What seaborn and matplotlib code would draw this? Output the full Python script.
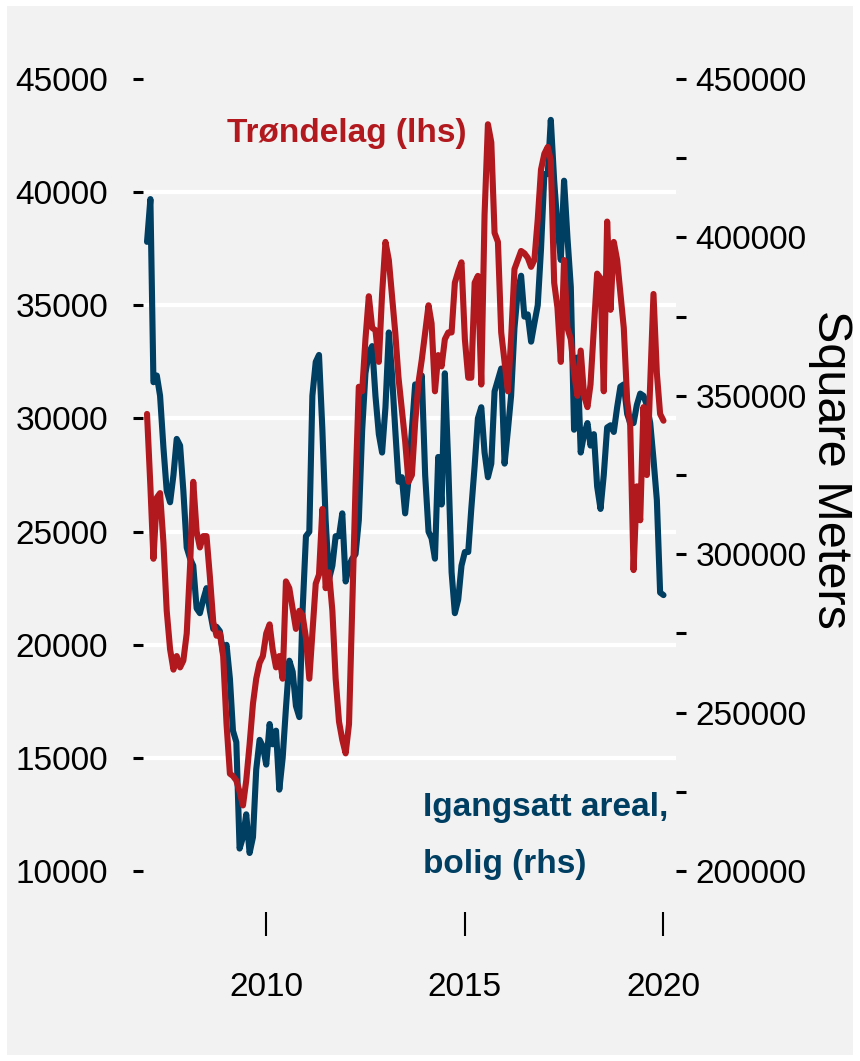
import numpy as np
import pandas as pd
import matplotlib
matplotlib.use('Agg')
import matplotlib.pyplot as plt
import seaborn as sns
from matplotlib.patches import Rectangle
from matplotlib import font_manager

# monthly values, Jan 2007 - Jan 2020
dates = pd.date_range('2007-01-01', periods=157, freq='MS')

trondelag = [
    30200, 27000, 23800, 26500, 26700, 24500, 21500, 19800, 18900, 19500, 19000, 19300,
    20500, 23500, 27200, 25000, 24300, 24800, 24800, 23000, 21000, 20400, 20500, 19500,
    16500, 14300, 14200, 14000, 13500, 12900, 14000, 15600, 17400, 18500, 19200, 19500,
    20500, 20900, 19800, 19000, 19500, 18500, 22800, 22500, 21600, 20700, 21500, 21300,
    20300, 18500, 20500, 22700, 23100, 26000, 22500, 23200, 21500, 18500, 16600, 15800,
    15200, 16500, 21500, 27000, 31400, 31200, 33500, 35400, 34000, 33900, 32500, 35500,
    37800, 37000, 35500, 33800, 31800, 30400, 29000, 27200, 27500, 29800, 31600, 32600,
    33800, 35000, 34200, 31200, 32800, 32300, 33500, 33800, 33800, 36000, 36500, 36900,
    33500, 31800, 31800, 36000, 36300, 31500, 39000, 43000, 42200, 38200, 37800, 33800,
    32500, 31200, 33500, 36600, 37000, 37400, 37300, 37100, 36700, 37000, 38800, 41000,
    41700, 42000, 41400, 36000, 34900, 32500, 37000, 34000, 33500, 32000, 31000, 33000,
    31000, 30500, 31500, 34000, 36400, 36200, 31200, 38700, 34800, 37800, 37000, 35500,
    34000, 30800, 29700, 23300, 27000, 25500, 30500, 27500, 31500, 35500, 32000, 30200,
    29900,
]

igangsatt = [
    398600, 412100, 354300, 356400, 350000, 333600, 320000, 316400, 325000, 336400, 334300, 320000,
    302100, 298600, 296400, 282900, 281400, 285700, 289300, 282100, 276400, 277100, 275700, 268600,
    271400, 260700, 244300, 240700, 207100, 210700, 217900, 205700, 210700, 232100, 241400, 239300,
    233600, 246400, 240000, 244300, 225700, 235700, 251400, 266400, 262900, 252100, 248600, 282100,
    305700, 307100, 350000, 360700, 362900, 339300, 310700, 292100, 296400, 305700, 305700, 312900,
    291400, 296400, 298600, 300000, 310700, 339300, 357100, 363600, 365700, 350000, 337900, 332100,
    346400, 370000, 357100, 339300, 322900, 324300, 312900, 323600, 339300, 353600, 352900, 356400,
    325000, 307100, 305000, 298600, 330700, 315700, 357100, 328600, 294300, 281400, 285700, 296400,
    300700, 300700, 314300, 327900, 342900, 346400, 332100, 324300, 328600, 351400, 355000, 358600,
    328600, 339300, 350000, 371400, 382900, 387900, 375000, 375700, 367100, 372900, 378600, 396400,
    420000, 420000, 437100, 417900, 403600, 392900, 417900, 400000, 384300, 339300, 362100, 332100,
    337900, 341400, 334300, 337900, 321400, 314300, 325000, 340000, 340700, 338600, 346400, 352900,
    353600, 344300, 341400, 341400, 347100, 350700, 350000, 347100, 341400, 330000, 317100, 287900,
    287100,
]

left_ticks = [10000, 15000, 20000, 25000, 30000, 35000, 40000, 45000]
right_ticks = [200000, 225000, 250000, 275000, 300000, 325000, 350000, 375000, 400000, 425000, 450000]
year_ticks = ['2010', '2015', '2020']

RED = '#B2191F'
BLUE = '#003E62'
BG = '#F2F2F2'

df = pd.DataFrame({'date': dates, 'trondelag': trondelag, 'igangsatt': igangsatt})


def to_rhs(v):
    return 200000 + (v - 10000) * 250000 / 35000


sns.set_style('white')
names = {f.name for f in font_manager.fontManager.ttflist}
narrow = 'Liberation Sans Narrow' in names
plt.rcParams['font.family'] = ['Liberation Sans Narrow' if narrow else 'Liberation Sans', 'DejaVu Sans']
tick_size = 28 if narrow else 24
note_size = 30 if narrow else 24

fig = plt.figure(figsize=(8.6, 10.61), dpi=100)
fig.patch.set_facecolor('white')
fig.add_artist(Rectangle((7 / 860, 6 / 1061), 846 / 860, 1049 / 1061, transform=fig.transFigure,
                         facecolor=BG, edgecolor='none', zorder=-10))

axb = fig.add_axes([143 / 860, 1 - 912 / 1061, 533 / 860, 852 / 1061])
axb.set_facecolor(BG)
axt = axb.twinx()

# blue series (rhs) underneath, red (lhs) on top
sns.lineplot(data=df, x='date', y='igangsatt', ax=axb, color=BLUE, lw=4.4)
sns.lineplot(data=df, x='date', y='trondelag', ax=axt, color=RED, lw=4.4)

ylo, yhi = 8190, 45840
axt.set_ylim(ylo, yhi)
axb.set_ylim(to_rhs(ylo), to_rhs(yhi))
axb.set_xlim(pd.Timestamp('2006-11-25'), pd.Timestamp('2020-04-25'))

# left axis on the top axes
axt.yaxis.tick_left()
axt.yaxis.set_label_position('left')
axt.set_yticks(left_ticks)
axt.set_yticklabels([str(t) for t in left_ticks])
axt.tick_params(axis='y', left=True, right=False, length=7, width=2.2, pad=18,
                labelsize=tick_size, colors='black')
axt.set_ylabel('')

# right axis on the bottom axes
axb.yaxis.tick_right()
axb.yaxis.set_label_position('right')
axb.set_yticks(right_ticks)
axb.set_yticklabels([str(t) if t % 50000 == 0 else '' for t in right_ticks])
axb.tick_params(axis='y', which='major', right=True, left=False, length=7, width=2.2, pad=7,
                labelsize=tick_size, colors='black')
axb.set_yticks([to_rhs(t) for t in left_ticks], minor=True)
axb.tick_params(axis='y', which='minor', length=0)
axb.yaxis.grid(True, which='minor', color='white', lw=3)
axb.yaxis.grid(False, which='major')
axb.xaxis.grid(False)
axb.set_axisbelow(True)
axb.set_ylabel('Square Meters', rotation=270, fontsize=35, family=['Liberation Sans', 'DejaVu Sans'],
               va='center', ha='center', color='black')
axb.yaxis.set_label_coords(1.29, 0.52)

axb.set_xticks([pd.Timestamp(y + '-01-01') for y in year_ticks])
axb.set_xticklabels(year_ticks)
axb.tick_params(axis='x', bottom=True, length=17, width=1.5, pad=26, labelsize=tick_size, colors='black')
axb.set_xlabel('')

for a in (axb, axt):
    for s in a.spines.values():
        s.set_visible(False)

axt.text(0.383, 0.914, 'Trøndelag (lhs)', transform=axt.transAxes, ha='center', va='center',
         color=RED, fontsize=note_size, fontweight='bold')
axt.text(0.525, 0.089, 'Igangsatt areal,\nbolig (rhs)', transform=axt.transAxes, ha='left', va='center',
         color=BLUE, fontsize=note_size, fontweight='bold', linespacing=2.1)

fig.savefig('out.png', dpi=100, facecolor=fig.get_facecolor())
